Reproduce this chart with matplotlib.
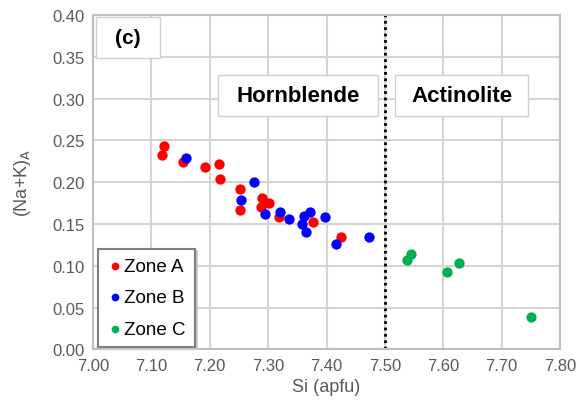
import matplotlib
matplotlib.use("Agg")
import matplotlib.pyplot as plt
from matplotlib.patches import Rectangle

plt.rcParams['font.family'] = ['Liberation Sans', 'DejaVu Sans']

zone_a_si = [7.122, 7.118, 7.155, 7.192, 7.216, 7.218, 7.251, 7.251, 7.290, 7.302, 7.288, 7.319, 7.377, 7.425]
zone_a_na = [0.243, 0.233, 0.224, 0.218, 0.222, 0.204, 0.192, 0.167, 0.181, 0.175, 0.170, 0.158, 0.153, 0.1345]
zone_b_si = [7.159, 7.254, 7.275, 7.294, 7.321, 7.335, 7.361, 7.372, 7.358, 7.365, 7.398, 7.417, 7.473]
zone_b_na = [0.229, 0.179, 0.200, 0.162, 0.164, 0.156, 0.160, 0.1645, 0.150, 0.141, 0.159, 0.126, 0.1345]
zone_c_si = [7.545, 7.538, 7.606, 7.627, 7.751]
zone_c_na = [0.114, 0.107, 0.093, 0.104, 0.039]

x_ticks = [7.00, 7.10, 7.20, 7.30, 7.40, 7.50, 7.60, 7.70, 7.80]
y_ticks = [0.00, 0.05, 0.10, 0.15, 0.20, 0.25, 0.30, 0.35, 0.40]
boundary = 7.50

fig = plt.figure(figsize=(5.82, 4.14), dpi=100)
ax = fig.add_axes([0.1598, 0.1534, 0.8024, 0.808])

grid_c = '#d4d4d4'
ax.set_xlim(7.0, 7.8)
ax.set_ylim(0.0, 0.4)
ax.set_xticks(x_ticks)
ax.set_yticks(y_ticks)
ax.set_xticklabels([f"{v:.2f}" for v in x_ticks])
ax.set_yticklabels([f"{v:.2f}" for v in y_ticks])
ax.grid(True, color=grid_c, linewidth=1.5, zorder=0)
ax.set_axisbelow(True)
for s in ax.spines.values():
    s.set_color('#bfbfbf')
    s.set_linewidth(1.5)
ax.tick_params(length=0, labelsize=12, colors='#595959', pad=6)

ax.axvline(boundary, color='black', linestyle=(0, (1, 1.3)), linewidth=2, zorder=2)

ms = 55
ax.scatter(zone_a_si, zone_a_na, s=ms, color='#ff0000', label='Zone A', zorder=3, linewidths=0)
ax.scatter(zone_b_si, zone_b_na, s=ms, color='#0000ff', label='Zone B', zorder=3, linewidths=0)
ax.scatter(zone_c_si, zone_c_na, s=ms, color='#00b050', label='Zone C', zorder=3, linewidths=0)

ax.set_xlabel('Si (apfu)', fontsize=13, color='#595959', labelpad=4)
ax.set_ylabel('(Na+K)$_\\mathrm{A}$', fontsize=13, color='#595959', labelpad=14)

def box(x0, x1, y0, y1, text, fs):
    r = Rectangle((x0, y0), x1 - x0, y1 - y0, transform=ax.transAxes,
                  facecolor='white', edgecolor='#d0d0d0', linewidth=1, zorder=4)
    ax.add_patch(r)
    ax.text((x0 + x1) / 2, (y0 + y1) / 2, text, transform=ax.transAxes,
            ha='center', va='center', fontsize=fs, fontweight='bold', zorder=5)

box(0.0064, 0.1435, 0.8715, 0.994, '(c)', 15)
box(0.2677, 0.6103, 0.698, 0.8206, 'Hornblende', 16)
box(0.6467, 0.9315, 0.698, 0.8206, 'Actinolite', 16)

leg = ax.legend(loc='lower left', bbox_to_anchor=(0.0107, 0.0075), borderaxespad=0,
                fontsize=13.5, markerscale=0.75, handletextpad=0.1, handlelength=0.8,
                labelspacing=0.75, fancybox=False,
                shadow={'ox': 1.5, 'oy': -1.5, 'color': '#c8c8c8', 'alpha': 1},
                framealpha=1, borderpad=0.5)
leg.get_frame().set_edgecolor('#808080')
leg.get_frame().set_linewidth(1.5)
leg.set_zorder(6)

fig.savefig('out.png', dpi=100)
